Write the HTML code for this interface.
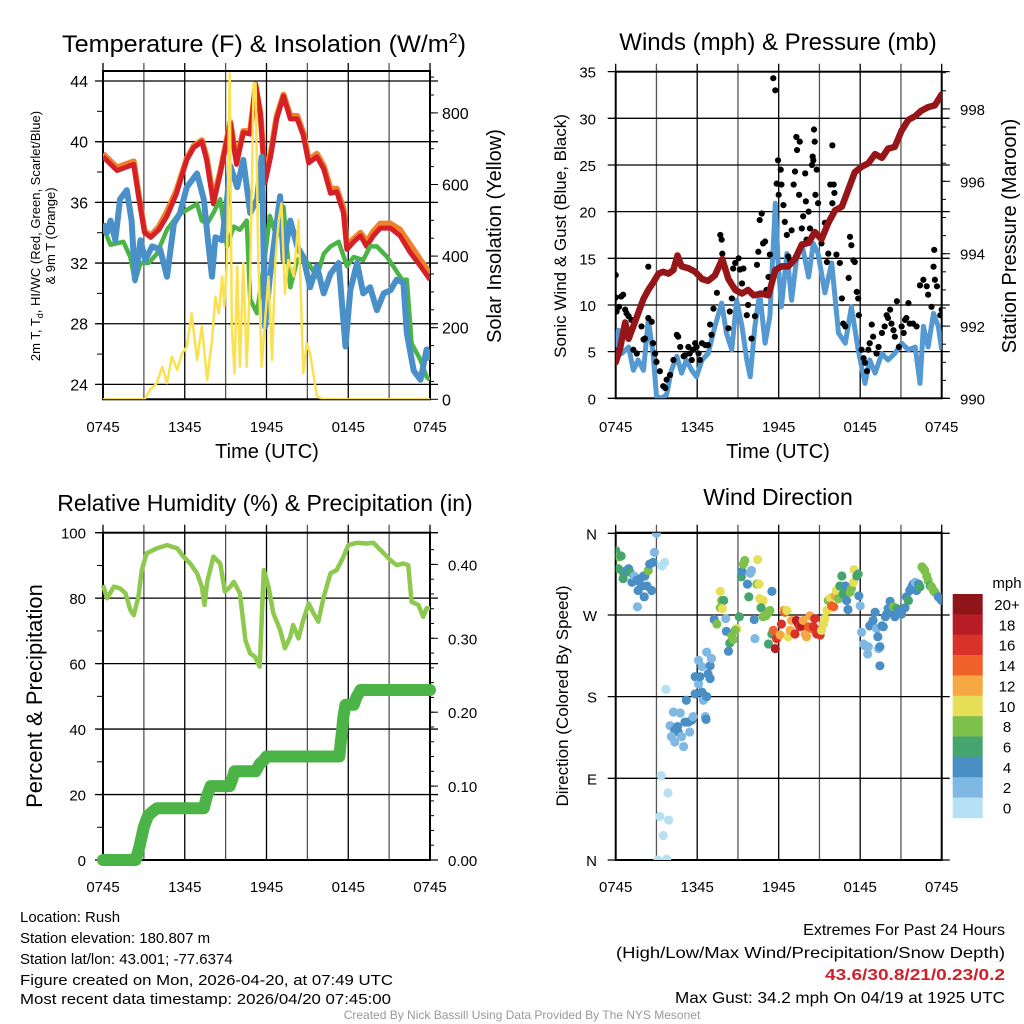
<!DOCTYPE html>
<html><head><meta charset="utf-8"><style>
html,body{margin:0;padding:0;background:#fff;}
svg{display:block;font-family:"Liberation Sans",Arial,sans-serif;}
</style></head><body>
<svg id="fig" width="1024" height="1024" viewBox="0 0 1024 1024" xmlns="http://www.w3.org/2000/svg">
<defs>
<clipPath id="c1"><rect x="103" y="71" width="327" height="328.3"/></clipPath>
<clipPath id="c2"><rect x="615.7" y="71.7" width="326" height="326.6"/></clipPath>
<clipPath id="c3"><rect x="103" y="532.7" width="327" height="327.3"/></clipPath>
<clipPath id="c4"><rect x="615.7" y="532.7" width="326" height="327.3"/></clipPath>
</defs>
<g id="root"></g>
<text x="62" y="52" font-size="24" textLength="404" lengthAdjust="spacingAndGlyphs">Temperature (F) &amp; Insolation (W/m<tspan dy="-9" font-size="15">2</tspan><tspan dy="9">)</tspan></text>
<text x="778" y="50" font-size="24" text-anchor="middle">Winds (mph) &amp; Pressure (mb)</text>
<text x="265" y="511" font-size="23" text-anchor="middle">Relative Humidity (%) &amp; Precipitation (in)</text>
<text x="778" y="505" font-size="23" text-anchor="middle">Wind Direction</text>
<text x="267" y="458" font-size="20" text-anchor="middle">Time (UTC)</text>
<text x="778" y="458" font-size="20" text-anchor="middle">Time (UTC)</text>
<text font-size="13" text-anchor="middle" transform="translate(40,236) rotate(-90)">2m T, T<tspan dy="3" font-size="9">d</tspan><tspan dy="-3">, HI/WC (Red, Green, Scarlet/Blue)</tspan></text>
<text font-size="13" text-anchor="middle" transform="translate(55,236) rotate(-90)">&amp; 9m T (Orange)</text>
<text font-size="20" text-anchor="middle" transform="translate(501,236) rotate(-90)">Solar Insolation (Yellow)</text>
<text font-size="17" text-anchor="middle" transform="translate(566,236) rotate(-90)">Sonic Wind &amp; Gust (Blue, Black)</text>
<text font-size="20" text-anchor="middle" transform="translate(1016,236) rotate(-90)">Station Pressure (Maroon)</text>
<text font-size="22" text-anchor="middle" transform="translate(42,696) rotate(-90)">Percent &amp; Precipitation</text>
<text font-size="17" text-anchor="middle" transform="translate(568,696) rotate(-90)">Direction (Colored By Speed)</text>
<g font-size="15">
<text x="20" y="922">Location: Rush</text>
<text x="20" y="943">Station elevation: 180.807 m</text>
<text x="20" y="964">Station lat/lon: 43.001; -77.6374</text>
<text x="20" y="985" textLength="373" lengthAdjust="spacingAndGlyphs">Figure created on Mon, 2026-04-20, at 07:49 UTC</text>
<text x="20" y="1004" textLength="371" lengthAdjust="spacingAndGlyphs">Most recent data timestamp: 2026/04/20 07:45:00</text>
</g>
<g font-size="16" text-anchor="end">
<text x="1005" y="935">Extremes For Past 24 Hours</text>
<text x="1005" y="958" textLength="389" lengthAdjust="spacingAndGlyphs">(High/Low/Max Wind/Precipitation/Snow Depth)</text>
<text x="1005" y="980" fill="#d0202a" font-weight="bold" textLength="180" lengthAdjust="spacingAndGlyphs">43.6/30.8/21/0.23/0.2</text>
<text x="1005" y="1003" textLength="330" lengthAdjust="spacingAndGlyphs">Max Gust: 34.2 mph On 04/19 at 1925 UTC</text>
</g>
<text x="522" y="1019" font-size="12" fill="#999" text-anchor="middle">Created By Nick Bassill Using Data Provided By The NYS Mesonet</text>
</svg>
<script>
const tRed=[0,1.03,2.25,2.6,3.05,3.5,4.1,4.7,5.4,6.15,6.65,7.25,7.6,8.1,8.6,9.05,9.35,9.8,10.3,10.8,11.2,11.55,11.9,12.3,12.75,13.25,13.75,14.25,14.7,15.1,15.7,16.2,16.7,17.15,17.65,17.9,18.4,18.9,19.35,19.85,20.35,21.1,21.8,22.55,23.3,24];
const tempRed=[39.0,38.1,38.5,36.5,34.0,33.7,34.2,35.1,36.6,38.8,39.6,40.0,38.8,35.9,37.9,39.9,41.2,38.5,40.6,40.5,43.8,41.8,37.3,39.0,41.5,43.0,41.5,41.5,40.4,38.6,39.0,38.2,36.6,36.7,35.3,32.9,33.4,33.8,33.1,33.8,34.3,34.3,33.8,32.7,31.8,30.9];
const temp9m=[39.2,38.3,38.7,36.6,34.1,33.8,34.4,35.4,36.8,38.9,39.7,40.1,39.0,36.2,38.0,40.0,41.3,38.7,40.7,40.7,43.7,41.9,37.6,39.2,41.7,43.1,41.7,41.7,40.6,38.8,39.2,38.4,36.9,36.9,35.6,33.1,33.6,34.0,33.4,34.1,34.6,34.6,34.2,33.2,32.2,31.3];
const tDew=[0,0.55,1.5,2.0,2.35,2.75,3.35,3.95,4.7,5.45,6.15,6.9,7.25,7.65,8.1,8.6,9.1,9.6,10.05,10.55,10.8,11.3,11.8,12.25,12.75,13.25,13.75,14.25,14.7,15.2,15.7,16.2,16.7,17.3,17.9,18.4,19.1,19.6,20.1,20.85,21.3,21.95,22.3,22.65,23.3,23.75,24];
const dewpoint=[34.4,33.2,33.4,32.4,30.8,32.0,32.0,32.6,34.2,35.1,35.5,35.9,34.8,34.6,35.3,36.2,33.1,34.4,34.2,34.8,29.6,28.7,31.8,35.1,33.7,35.7,30.4,32.2,32.4,31.8,31.1,32.6,33.1,33.4,31.8,32.4,32.2,33.1,33.1,32.4,31.8,30.9,30.9,26.7,25.6,24.5,24.3];
const tWc=[0,0.3,0.55,0.9,1.25,1.75,2.1,2.35,2.75,3.1,3.6,4.2,4.7,5.2,5.65,6.15,6.9,7.4,7.75,8.0,8.25,8.75,9.1,9.35,9.85,10.3,10.8,11.3,11.65,11.9,12.25,12.65,13.0,13.25,13.75,14.25,14.7,15.2,15.7,16.2,16.7,17.3,17.8,18.15,18.65,19.1,19.6,20.1,20.6,21.1,21.55,22.05,22.3,22.8,23.3,23.75,24];
const windChill=[34.6,34.0,34.8,33.5,36.2,36.8,34.8,30.9,33.5,32.2,33.1,32.9,31.1,34.6,35.3,37.0,37.9,36.2,33.1,31.1,33.7,33.5,36.2,38.4,37.0,38.8,35.3,36.2,39.0,27.8,31.1,34.0,36.4,32.2,34.8,33.1,32.4,30.4,31.8,30.0,31.3,32.0,26.5,30.2,32.0,30.0,30.4,28.9,30.0,30.2,30.9,30.7,27.4,24.9,24.3,26.3,25.6];
const tSolar=[0,3.05,3.45,3.95,4.35,4.7,5.05,5.45,5.8,6.15,6.5,6.9,7.25,7.65,8.0,8.25,8.5,8.75,8.9,9.1,9.3,9.45,9.65,9.85,10.05,10.3,10.55,10.8,11.05,11.2,11.4,11.65,11.9,12.15,12.4,12.65,12.9,13.1,13.35,13.6,14.0,14.35,14.7,14.95,15.2,15.7,16.2,24];
const solar=[0,0,26,45,91,45,119,82,128,147,240,110,203,54,165,286,240,343,259,389,910,203,73,371,91,380,91,343,883,883,389,91,221,343,110,389,501,547,295,389,343,501,73,156,128,8,0,0];
const tempTicks=[24,28,32,36,40,44];
const solarTicks=[0,200,400,600,800];
const timeLabels=["0745","1345","1945","0145","0745"];

const tPres=[0,0.3,0.7,0.95,1.3,1.65,2.05,2.4,2.75,3.15,3.5,3.9,4.25,4.55,4.85,5.35,5.85,6.35,6.8,7.3,7.85,8.3,8.8,9.3,9.75,10.15,10.75,11.25,11.75,12.2,12.7,13.2,13.7,14.2,14.65,15.15,15.65,16.15,16.65,17.15,17.6,18.1,18.6,19.1,19.6,20.05,20.55,21.05,21.55,22.05,22.5,23.0,23.5,24.0];
const pressure=[991.0,991.35,992.1,991.65,992.0,992.35,992.75,993.0,993.2,993.45,993.5,993.45,993.55,993.95,993.65,993.6,993.5,993.3,993.25,993.4,993.85,993.3,993.0,992.9,993.0,992.85,992.9,992.85,993.55,993.65,993.65,993.85,994.25,994.3,994.6,994.4,994.85,995.2,995.3,995.8,996.25,996.4,996.5,996.75,996.65,996.9,996.95,997.4,997.7,997.8,997.95,998.05,998.1,998.4];
const tWind=[0,0.2,0.45,0.95,1.3,1.65,2.05,2.4,2.75,3.0,3.4,3.75,4.1,4.5,4.85,5.2,5.6,5.95,6.35,6.8,7.3,7.8,8.15,8.55,8.9,9.3,9.65,9.9,10.25,10.6,11.0,11.35,11.75,11.95,12.2,12.6,12.95,13.3,13.7,14.2,14.55,14.9,15.4,15.9,16.4,16.9,17.35,17.85,18.35,18.7,19.1,19.6,20.05,20.55,21.05,21.55,22.05,22.4,22.65,23.0,23.4,23.75,24];
const windSpeed=[5.5,7.3,4.8,5.5,3.0,4.1,3.0,8.4,4.8,0.2,0,0.4,3.0,4.5,2.7,4.1,3.0,2.3,4.1,4.8,7.7,10.2,7.0,5.2,10.5,7.7,4.1,2.3,7.7,11.3,5.9,8.8,20.9,14.8,9.8,15.5,10.5,14.8,16.6,13.0,16.6,15.5,11.3,14.5,7.0,5.9,9.8,5.2,1.6,4.1,2.7,4.8,4.1,4.8,5.9,5.2,5.5,1.6,7.7,5.5,9.1,7.7,5.2];
const tGust=[0,0,0.07,0.25,0.4,0.55,0.7,0.8,0.95,1.15,1.3,1.55,1.9,2.05,2.15,2.4,2.4,2.65,2.75,2.9,3.0,3.25,3.5,3.65,3.75,4.0,4.25,4.5,4.6,4.75,5.0,5.1,5.35,5.45,5.6,5.7,5.85,5.95,6.1,6.2,6.35,6.6,6.8,6.95,7.05,7.2,7.45,7.7,7.8,7.85,8.3,8.4,8.55,8.65,8.8,9.05,9.15,9.3,9.4,9.65,9.75,10.0,10.25,10.4,10.5,10.6,10.75,10.85,11.0,11.1,11.25,11.35,11.6,11.75,11.85,11.95,12.0,12.15,12.2,12.35,12.45,12.6,12.7,12.85,12.95,13.1,13.2,13.3,13.35,13.5,13.55,13.7,13.8,13.95,14.0,14.05,14.2,14.3,14.45,14.5,14.55,14.6,14.65,14.7,14.8,14.9,15.15,15.4,15.55,15.65,15.8,15.95,15.95,16.05,16.1,16.25,16.5,16.65,16.75,16.9,17.15,17.25,17.35,17.5,17.6,17.75,17.85,17.9,18.1,18.25,18.35,18.5,18.6,18.7,18.85,18.95,19.2,19.35,19.6,19.8,19.95,20.05,20.2,20.3,20.45,20.55,20.7,20.85,21.05,21.2,21.3,21.4,21.55,21.65,21.9,22.15,22.4,22.65,22.9,23.0,23.25,23.4,23.45,23.5,23.65,23.9,24.0];
const gust=[10.8,13.2,9.3,9.8,10.9,11.1,9.5,9.1,8.8,8.4,5.2,4.8,7.7,6.3,6.4,14.1,8.6,8.2,5.9,4.8,3.9,2.9,1.3,1.1,2.0,2.5,4.1,6.8,6.6,5.5,4.5,4.6,5.5,4.8,4.1,5.2,5.9,5.5,4.8,4.1,5.9,5.7,5.7,7.9,6.8,9.6,11.3,17.5,17.0,15.5,7.5,9.3,10.7,13.9,14.5,15.0,13.8,12.3,13.9,8.9,10.0,6.4,8.8,14.3,15.7,19.1,19.8,16.6,16.8,11.6,13.0,15.4,34.3,33.0,23.0,25.5,21.8,24.5,22.9,20.7,18.9,17.5,15.2,14.8,18.0,22.9,24.3,28.0,26.6,21.8,27.5,18.2,19.5,24.1,21.1,17.0,20.0,18.2,25.0,25.9,25.5,28.8,27.5,21.8,24.5,20.9,16.6,18.8,14.6,15.5,22.9,20.9,27.1,22.9,22.0,15.4,14.5,10.7,8.0,7.7,12.9,17.3,16.4,14.8,14.6,11.4,10.7,8.9,5.2,4.3,3.8,2.9,5.2,5.9,7.9,6.6,4.8,5.5,7.0,7.7,8.9,8.6,9.5,8.0,7.3,6.6,10.4,5.5,7.7,7.0,8.4,8.6,10.2,8.0,8.0,7.7,12.1,12.7,12.0,11.1,9.8,14.1,15.9,12.7,12.0,8.9,9.5];
const windTicks=[0,5,10,15,20,25,30,35];
const presTicks=[990,992,994,996,998];

const tRh=[0,0.3,0.8,1.25,1.65,2.0,2.25,2.6,2.85,3.2,3.95,4.7,5.45,5.9,6.4,6.9,7.25,7.45,7.65,8.1,8.6,8.95,9.35,9.6,10.05,10.45,10.8,11.15,11.5,11.8,12.15,12.5,13.0,13.35,13.75,13.95,14.35,14.7,15.1,15.45,15.8,16.2,16.7,17.15,17.65,18.0,18.65,19.35,19.85,20.6,21.1,21.55,22.05,22.4,22.65,23.15,23.5,23.75,24];
const rh=[84.0,80,83.5,83,81.5,76.4,74.8,80.4,88.6,93.7,95.2,96.2,95.2,92.7,90.6,87.6,83.5,77.9,85,92.7,90.6,82,83.5,85,81.5,67.2,63.1,62.1,59.1,88.6,83.5,75.4,70.3,64.7,68.2,71.8,67.7,73.3,78.4,75.4,72.8,80.4,87.6,88.6,92.7,96.2,96.9,96.7,96.9,93.7,91.6,90.1,90.6,90.1,78.9,77.9,74.3,76.9,76.9];
const tPrecip=[0,2.4,2.7,3.0,3.3,3.6,3.95,7.4,7.6,7.9,9.3,9.5,9.65,11.2,11.5,11.8,12.0,17.35,17.45,17.55,17.65,17.8,18.4,18.6,18.9,24];
const precip=[0,0,0.02,0.045,0.06,0.065,0.07,0.07,0.085,0.10,0.10,0.11,0.12,0.12,0.13,0.135,0.14,0.14,0.16,0.175,0.195,0.21,0.21,0.22,0.23,0.23];
const rhTicks=[0,20,40,60,80,100];
const precipTicks=[0,0.1,0.2,0.3,0.4];
const precipLabels=["0.00","0.10","0.20","0.30","0.40"];

const tDir=[0,0,0.07,0.25,0.4,0.2,0.55,0.55,0.8,0.95,1.05,1.2,1.35,1.55,1.65,1.8,1.9,2.05,2.15,2.3,2.1,2.4,2.5,2.65,2.75,2.85,3.0,1.6,3.4,3.6,3.7,3.35,3.85,3.25,3.9,3.5,3.1,3.75,4.25,4.75,4.0,4.55,4.35,4.6,4.1,4.85,4.35,5.0,5.1,5.35,5.6,5.45,5.7,5.2,5.85,6.35,6.45,6.7,5.85,6.1,6.2,6.1,6.35,6.8,6.95,6.7,6.95,7.05,6.6,6.65,7.25,7.45,7.7,7.8,7.95,7.7,7.85,8.1,8.15,8.3,8.4,8.55,8.65,8.9,8.8,9.1,9.25,9.3,9.4,9.5,9.7,9.8,9.9,10.0,10.2,10.25,10.4,10.45,10.55,10.6,10.85,10.7,10.85,11.05,11.2,11.35,11.5,11.25,11.5,11.6,11.75,11.85,12.1,12.2,12.35,12.45,12.6,12.7,12.85,12.95,13.2,13.3,13.45,13.55,13.7,13.8,13.95,14.05,14.2,14.3,14.45,14.55,14.65,14.8,14.9,15.05,15.15,15.3,15.4,15.55,15.65,15.8,15.9,16.05,16.15,16.25,16.4,16.5,16.65,16.75,16.9,17.0,17.1,17.25,17.35,17.5,17.55,17.75,17.85,17.9,18.0,18.1,18.25,18.35,18.5,18.55,18.6,18.7,18.85,18.95,19.1,19.2,19.3,19.35,19.45,19.45,19.6,19.7,19.85,19.95,20.05,20.2,20.3,20.45,20.55,20.7,20.8,21.05,21.3,21.4,21.55,21.65,21.8,21.9,22.05,22.15,22.3,22.4,22.55,22.65,22.75,22.9,23.0,23.15,23.25,23.4,23.5,23.75,23.9,24.0];
const dirDeg=[339,341,337,334,335,321,317,310,319,321,317,306,313,308,297,310,302,313,313,302,290,319,326,297,328,339,360,279,324,328,188,93,74,48,44,27,0,1,163,162,148,147,143,141,136,136,130,125,152,152,154,141,158,176,183,185,176,180,202,194,202,220,213,205,200,229,214,222,158,155,265,260,296,286,286,278,277,266,252,230,239,247,243,255,253,268,312,318,326,330,304,290,316,319,265,244,304,331,304,288,286,278,268,269,272,275,296,238,249,253,233,244,248,260,275,273,275,246,253,264,249,264,260,257,258,264,249,246,257,269,255,257,266,249,253,248,253,260,266,275,286,289,280,279,291,297,288,302,313,293,302,286,276,295,299,306,320,313,315,291,280,251,238,236,235,227,235,258,260,264,273,255,246,233,235,214,258,257,268,271,277,285,275,279,268,277,273,271,278,290,286,297,301,304,306,297,304,301,323,321,319,313,308,302,301,297,295,290,288,286];
const dirSpeed=[4,6,6,8,6,6,6,6,4,4,6,4,2,4,4,4,4,4,4,4,4,8,4,4,4,2,2,2,0,0,0,0,0,0,0,0,0,0,2,2,2,4,4,4,2,2,2,2,4,4,4,2,2,4,4,4,2,4,4,2,4,2,2,4,4,2,4,2,2,4,4,8,10,8,6,8,10,2,4,4,6,8,8,10,8,6,6,4,8,8,4,6,2,2,4,2,8,10,10,10,10,6,8,8,8,8,4,6,6,14,18,16,12,16,12,14,10,10,12,12,16,18,18,16,18,12,12,12,14,12,14,16,16,16,16,16,10,10,10,10,8,10,14,14,12,10,8,6,6,6,4,4,4,8,8,10,10,6,6,4,2,2,2,2,2,2,2,4,4,4,4,2,4,2,4,4,4,4,4,4,4,4,4,8,4,6,4,4,4,4,6,4,4,4,2,4,4,6,8,8,8,8,8,6,8,8,8,4,4,4];
const dirTicks=[0,90,180,270,360];
const dirLabels=["N","E","S","W","N"];
const speedBins=["0","2","4","6","8","10","12","14","16","18","20+"];
const binColors=["#b6e1f5","#7fb8e3","#4a8ec6","#46a56f","#7ec14a","#e6df57","#f6a845","#ef6129","#d93229","#b81c25","#8f1519"];

const x1=t=>103+t*327/24, x2=t=>615.7+t*326/24;
const yT=v=>81+(44-v)*15.17, yW=w=>399.3-w*0.358;
const yS=m=>398.3-m*9.333, yP=p=>398.5-(p-990)*36.2;
const yR=r=>860-r*3.273, yPr=p=>860-p*739;
const yD=d=>860-d*0.9075;

const NS="http://www.w3.org/2000/svg";
const root=document.getElementById('root');
function mk(tag,attrs,parent){const e=document.createElementNS(NS,tag);for(const k in attrs)e.setAttribute(k,attrs[k]);(parent||root).appendChild(e);return e;}
function grp(name,clip){const g=document.createElementNS(NS,'g');


if(clip)g.setAttribute('clip-path','url(#'+clip+')');root.appendChild(g);return g;}
function pathD(ts,vs,fx,fy){return ts.map((t,i)=>(i?'L':'M')+fx(t).toFixed(1)+' '+fy(vs[i]).toFixed(1)).join(' ');}

function panelFrame(name,L,T,R,B,xs,hy){
  const g=grp(name+'-grid');
  xs.forEach((x,i)=>{mk('line',{x1:x,y1:T-8,x2:x,y2:B,stroke:i%2?'#555':'#000','stroke-width':1.3},g);});
  hy.forEach(y=>{mk('line',{x1:L-8,y1:y,x2:R+8,y2:y,stroke:'#000','stroke-width':1.3},g);});
  const f=mk('rect',{x:L,y:T,width:R-L,height:B-T,fill:'none',stroke:'#000','stroke-width':2},g);
  
  
}
const gridT=[0,3,6,9,12,15,18,21,24];

panelFrame('temperature-panel',103,71,430,399.3,gridT.map(x1),tempTicks.map(yT));
{
 const g=grp('temperature-axes');
 tempTicks.forEach(v=>{const t=mk('text',{x:88,y:yT(v)+6,'font-size':16,'text-anchor':'end'},g);t.textContent=v;
 
 });
 for(let v=24;v<=44;v+=2){mk('line',{x1:97,y1:yT(v),x2:103,y2:yT(v),stroke:'#000'},g);}
 solarTicks.forEach(v=>{const t=mk('text',{x:442,y:yW(v)+6,'font-size':16},g);t.textContent=v;
 
 
 mk('line',{x1:430,y1:yW(v),x2:438,y2:yW(v),stroke:'#000'},g);});
 for(let v=50;v<=900;v+=50){mk('line',{x1:430,y1:yW(v),x2:434,y2:yW(v),stroke:'#000'},g);}
 timeLabels.forEach((s,i)=>{const t=mk('text',{x:x1(i*6),y:432,'font-size':15,'text-anchor':'middle'},g);t.textContent=s;
 
 });
 const s=grp('temperature-series','c1');
 const p9=mk('path',{d:pathD(tRed,temp9m,x1,yT),fill:'none',stroke:'#f0802a','stroke-width':6,'stroke-linejoin':'round'},s);
 
 
 const pr=mk('path',{d:pathD(tRed,tempRed,x1,yT),fill:'none',stroke:'#d42026','stroke-width':5,'stroke-linejoin':'round'},s);
 
 
 const pg=mk('path',{d:pathD(tDew,dewpoint,x1,yT),fill:'none',stroke:'#4cb447','stroke-width':4.5,'stroke-linejoin':'round'},s);
 
 
 const pb=mk('path',{d:pathD(tWc,windChill,x1,yT),fill:'none',stroke:'#4a90c8','stroke-width':6,'stroke-linejoin':'round'},s);
 
 
 const py=mk('path',{d:pathD(tSolar,solar,x1,yW),fill:'none',stroke:'#fbe14f','stroke-width':2.5,'stroke-linejoin':'round'},s);
 
 
}

panelFrame('winds-panel',615.7,71.7,941.7,398.3,gridT.map(x2),windTicks.map(yS));
{
 const g=grp('winds-axes');
 windTicks.forEach(v=>{const t=mk('text',{x:596,y:yS(v)+6,'font-size':15,'text-anchor':'end'},g);t.textContent=v;
 
 });
 presTicks.forEach(v=>{const t=mk('text',{x:960,y:yP(v)+6,'font-size':15},g);t.textContent=v;
 
 
 mk('line',{x1:941.7,y1:yP(v),x2:950,y2:yP(v),stroke:'#000'},g);});
 for(let v=990.5;v<=999;v+=0.5){mk('line',{x1:941.7,y1:yP(v),x2:946,y2:yP(v),stroke:'#000'},g);}
 timeLabels.forEach((s,i)=>{const t=mk('text',{x:x2(i*6),y:432,'font-size':15,'text-anchor':'middle'},g);t.textContent=s;
 
 });
 const s=grp('winds-series','c2');
 const pw=mk('path',{d:pathD(tWind,windSpeed,x2,yS),fill:'none',stroke:'#5499d2','stroke-width':5,'stroke-linejoin':'round'},s);
 
 
 tGust.forEach((t,i)=>{const c=mk('circle',{cx:x2(t),cy:yS(gust[i]),r:3.1,fill:'#000'},s);
 
 });
 const pp=mk('path',{d:pathD(tPres,pressure,x2,yP),fill:'none',stroke:'#961518','stroke-width':6.5,'stroke-linejoin':'round','stroke-linecap':'round'},s);
 
 
}

panelFrame('humidity-panel',103,532.7,430,860,gridT.map(x1),rhTicks.map(yR));
{
 const g=grp('humidity-axes');
 rhTicks.forEach(v=>{const t=mk('text',{x:86,y:yR(v)+6,'font-size':15,'text-anchor':'end'},g);t.textContent=v;
 
 });
 for(let v=10;v<=100;v+=10){mk('line',{x1:97,y1:yR(v),x2:103,y2:yR(v),stroke:'#000'},g);}
 precipTicks.forEach((v,i)=>{const t=mk('text',{x:448,y:yPr(v)+6,'font-size':15},g);t.textContent=precipLabels[i];
 
 
 mk('line',{x1:430,y1:yPr(v),x2:438,y2:yPr(v),stroke:'#000'},g);});
 for(let v=0.02;v<=0.44;v+=0.02){mk('line',{x1:430,y1:yPr(v),x2:434,y2:yPr(v),stroke:'#000'},g);}
 timeLabels.forEach((s,i)=>{const t=mk('text',{x:x1(i*6),y:892,'font-size':15,'text-anchor':'middle'},g);t.textContent=s;
 
 });
 const s=grp('humidity-series');
 const ph=mk('path',{d:pathD(tRh,rh,x1,yR),fill:'none',stroke:'#8ec94f','stroke-width':4.5,'stroke-linejoin':'round'},s);
 
 
 const pq=mk('path',{d:pathD(tPrecip,precip,x1,yPr),fill:'none',stroke:'#4cb447','stroke-width':12,'stroke-linejoin':'round','stroke-linecap':'round'},s);
 
 
}

panelFrame('wind-direction-panel',615.7,532.7,941.7,860,gridT.map(x2),dirTicks.map(yD));
{
 const g=grp('direction-axes');
 dirTicks.forEach((v,i)=>{const t=mk('text',{x:597,y:yD(v)+6,'font-size':15,'text-anchor':'end'},g);t.textContent=dirLabels[i];
 
 });
 timeLabels.forEach((s,i)=>{const t=mk('text',{x:x2(i*6),y:892,'font-size':15,'text-anchor':'middle'},g);t.textContent=s;
 
 });
 const s=grp('direction-points','c4');
 tDir.forEach((t,i)=>{const b=Math.max(0,Math.min(10,Math.round(dirSpeed[i]/2)));
  const c=mk('circle',{cx:x2(t),cy:yD(dirDeg[i]),r:4.6,fill:binColors[b]},s);
  
  });
 const cb=grp('speed-colorbar');
 const m=mk('text',{x:1007,y:588,'font-size':15,'text-anchor':'middle'},cb);m.textContent='mph';
 
 
 speedBins.forEach((s,i)=>{const k=10-i;const y=594+i*20.36;
  const r=mk('rect',{x:952.7,y:y,width:30,height:20.6,fill:binColors[k]},cb);
  
  
  const t=mk('text',{x:1007,y:y+16,'font-size':15,'text-anchor':'middle'},cb);t.textContent=speedBins[k];
  
  });
}
</script>
</body></html>
